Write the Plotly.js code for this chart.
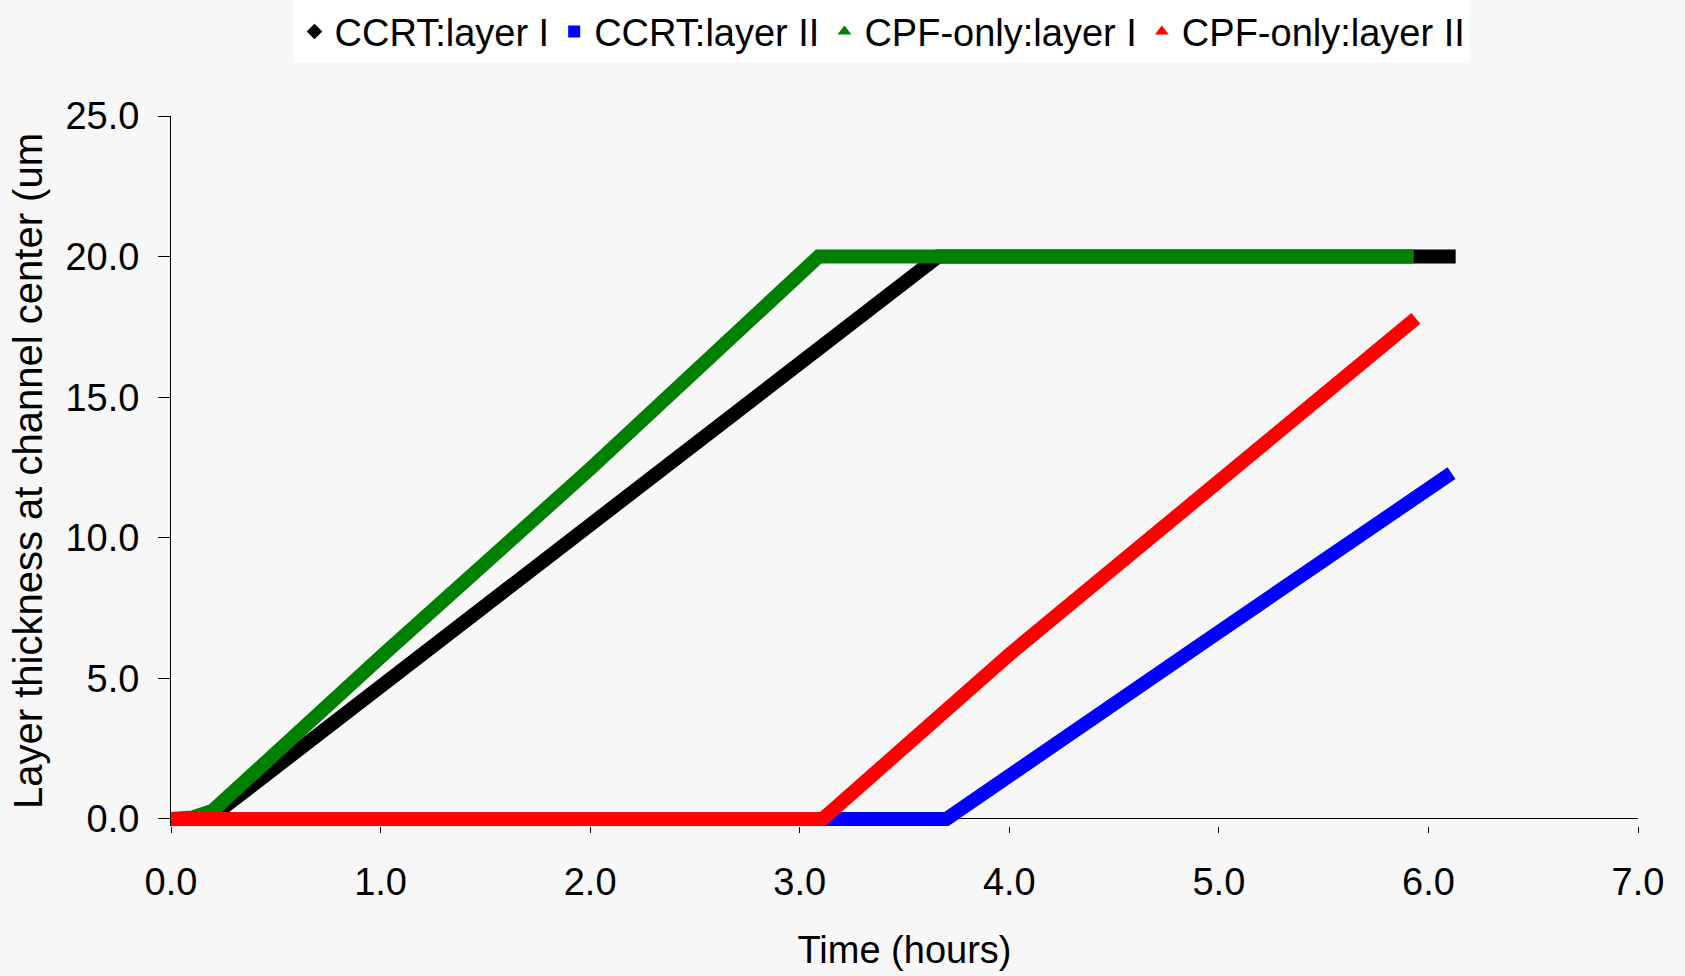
<!DOCTYPE html>
<html>
<head>
<meta charset="utf-8">
<script src="https://cdn.plot.ly/plotly-3.0.1.min.js"></script>
<style>html,body{margin:0;padding:0;background:#f7f7f7;}#chart{width:1685px;height:976px;}</style>
</head>
<body>
<div id="chart"></div>
<script>
// Series names
const seriesNames = ["CCRT:layer I", "CCRT:layer II", "CPF-only:layer I", "CPF-only:layer II"];

// Time (hours) and thickness (um) values
const ccrtLayer1X = [0, 0.15, 0.25, 3.66, 6.13];
const ccrtLayer1Y = [0, 0, 0.4, 20, 20];

const ccrtLayer2X = [0, 3.70, 5.0, 6.11];
const ccrtLayer2Y = [0, 0, 6.65, 12.3];

const cpfLayer1X = [0, 0.1, 0.2, 0.3, 1.0, 2.0, 3.09, 5.93];
const cpfLayer1Y = [0, 0.05, 0.3, 1.0, 5.76, 12.45, 20, 20];

const cpfLayer2X = [0, 3.11, 4.0, 5.94];
const cpfLayer2Y = [0, 0, 5.85, 17.8];

const xTicks = [0, 1, 2, 3, 4, 5, 6, 7];
const yTicks = [0, 5, 10, 15, 20, 25];

const colors = ["#000000", "#0000ff", "#008000", "#ff0000"];
const symbols = ["diamond", "square", "triangle-up", "triangle-up"];

const xs = [ccrtLayer1X, ccrtLayer2X, cpfLayer1X, cpfLayer2X];
const ys = [ccrtLayer1Y, ccrtLayer2Y, cpfLayer1Y, cpfLayer2Y];

const traces = [];
for (let i = 0; i < 4; i++) {
  traces.push({
    type: "scatter", mode: "lines", x: xs[i], y: ys[i],
    line: {color: colors[i], width: 14},
    showlegend: false, hoverinfo: "skip"
  });
}
for (let i = 0; i < 4; i++) {
  traces.push({
    type: "scatter", mode: "markers", x: [null], y: [null],
    name: seriesNames[i],
    marker: {color: colors[i], symbol: symbols[i], size: 12}
  });
}

const font = {family: "Liberation Sans, Arial, sans-serif", size: 38, color: "#000"};
const yTitleFont = {family: "Liberation Sans, Arial, sans-serif", size: 40, color: "#000"};

const layout = {
  width: 1685, height: 976,
  paper_bgcolor: "#f7f7f7", plot_bgcolor: "#f7f7f7",
  margin: {l: 171, r: 47, t: 116, b: 150, autoexpand: false},
  font: font,
  showlegend: true,
  legend: {
    orientation: "h", x: 0.485, xanchor: "center", y: 1.163, yanchor: "top",
    bgcolor: "#ffffff", font: font, borderwidth: 0, itemwidth: 30,
    traceorder: "normal"
  },
  xaxis: {
    range: [0, 7], tickvals: xTicks, tickformat: ".1f",
    showgrid: false, zeroline: false,
    showline: false, ticks: "outside", ticklen: 6, tickcolor: "#000",
    ticklabelstandoff: 16, tickfont: font,
    title: {text: "Time (hours)", font: font, standoff: 34},
    automargin: false
  },
  yaxis: {
    range: [-0.25, 25], tickvals: yTicks, tickformat: ".1f",
    showgrid: false, zeroline: true, zerolinecolor: "#000", zerolinewidth: 1,
    showline: true, linecolor: "#000", linewidth: 1,
    ticks: "outside", ticklen: 12, tickcolor: "#000",
    ticklabelstandoff: 11, tickfont: font,
    title: {text: "Layer thickness at channel center (um", font: yTitleFont, standoff: 10},
    automargin: false
  }
};

Plotly.newPlot("chart", traces, layout, {displayModeBar: false, staticPlot: true});
</script>
</body>
</html>
